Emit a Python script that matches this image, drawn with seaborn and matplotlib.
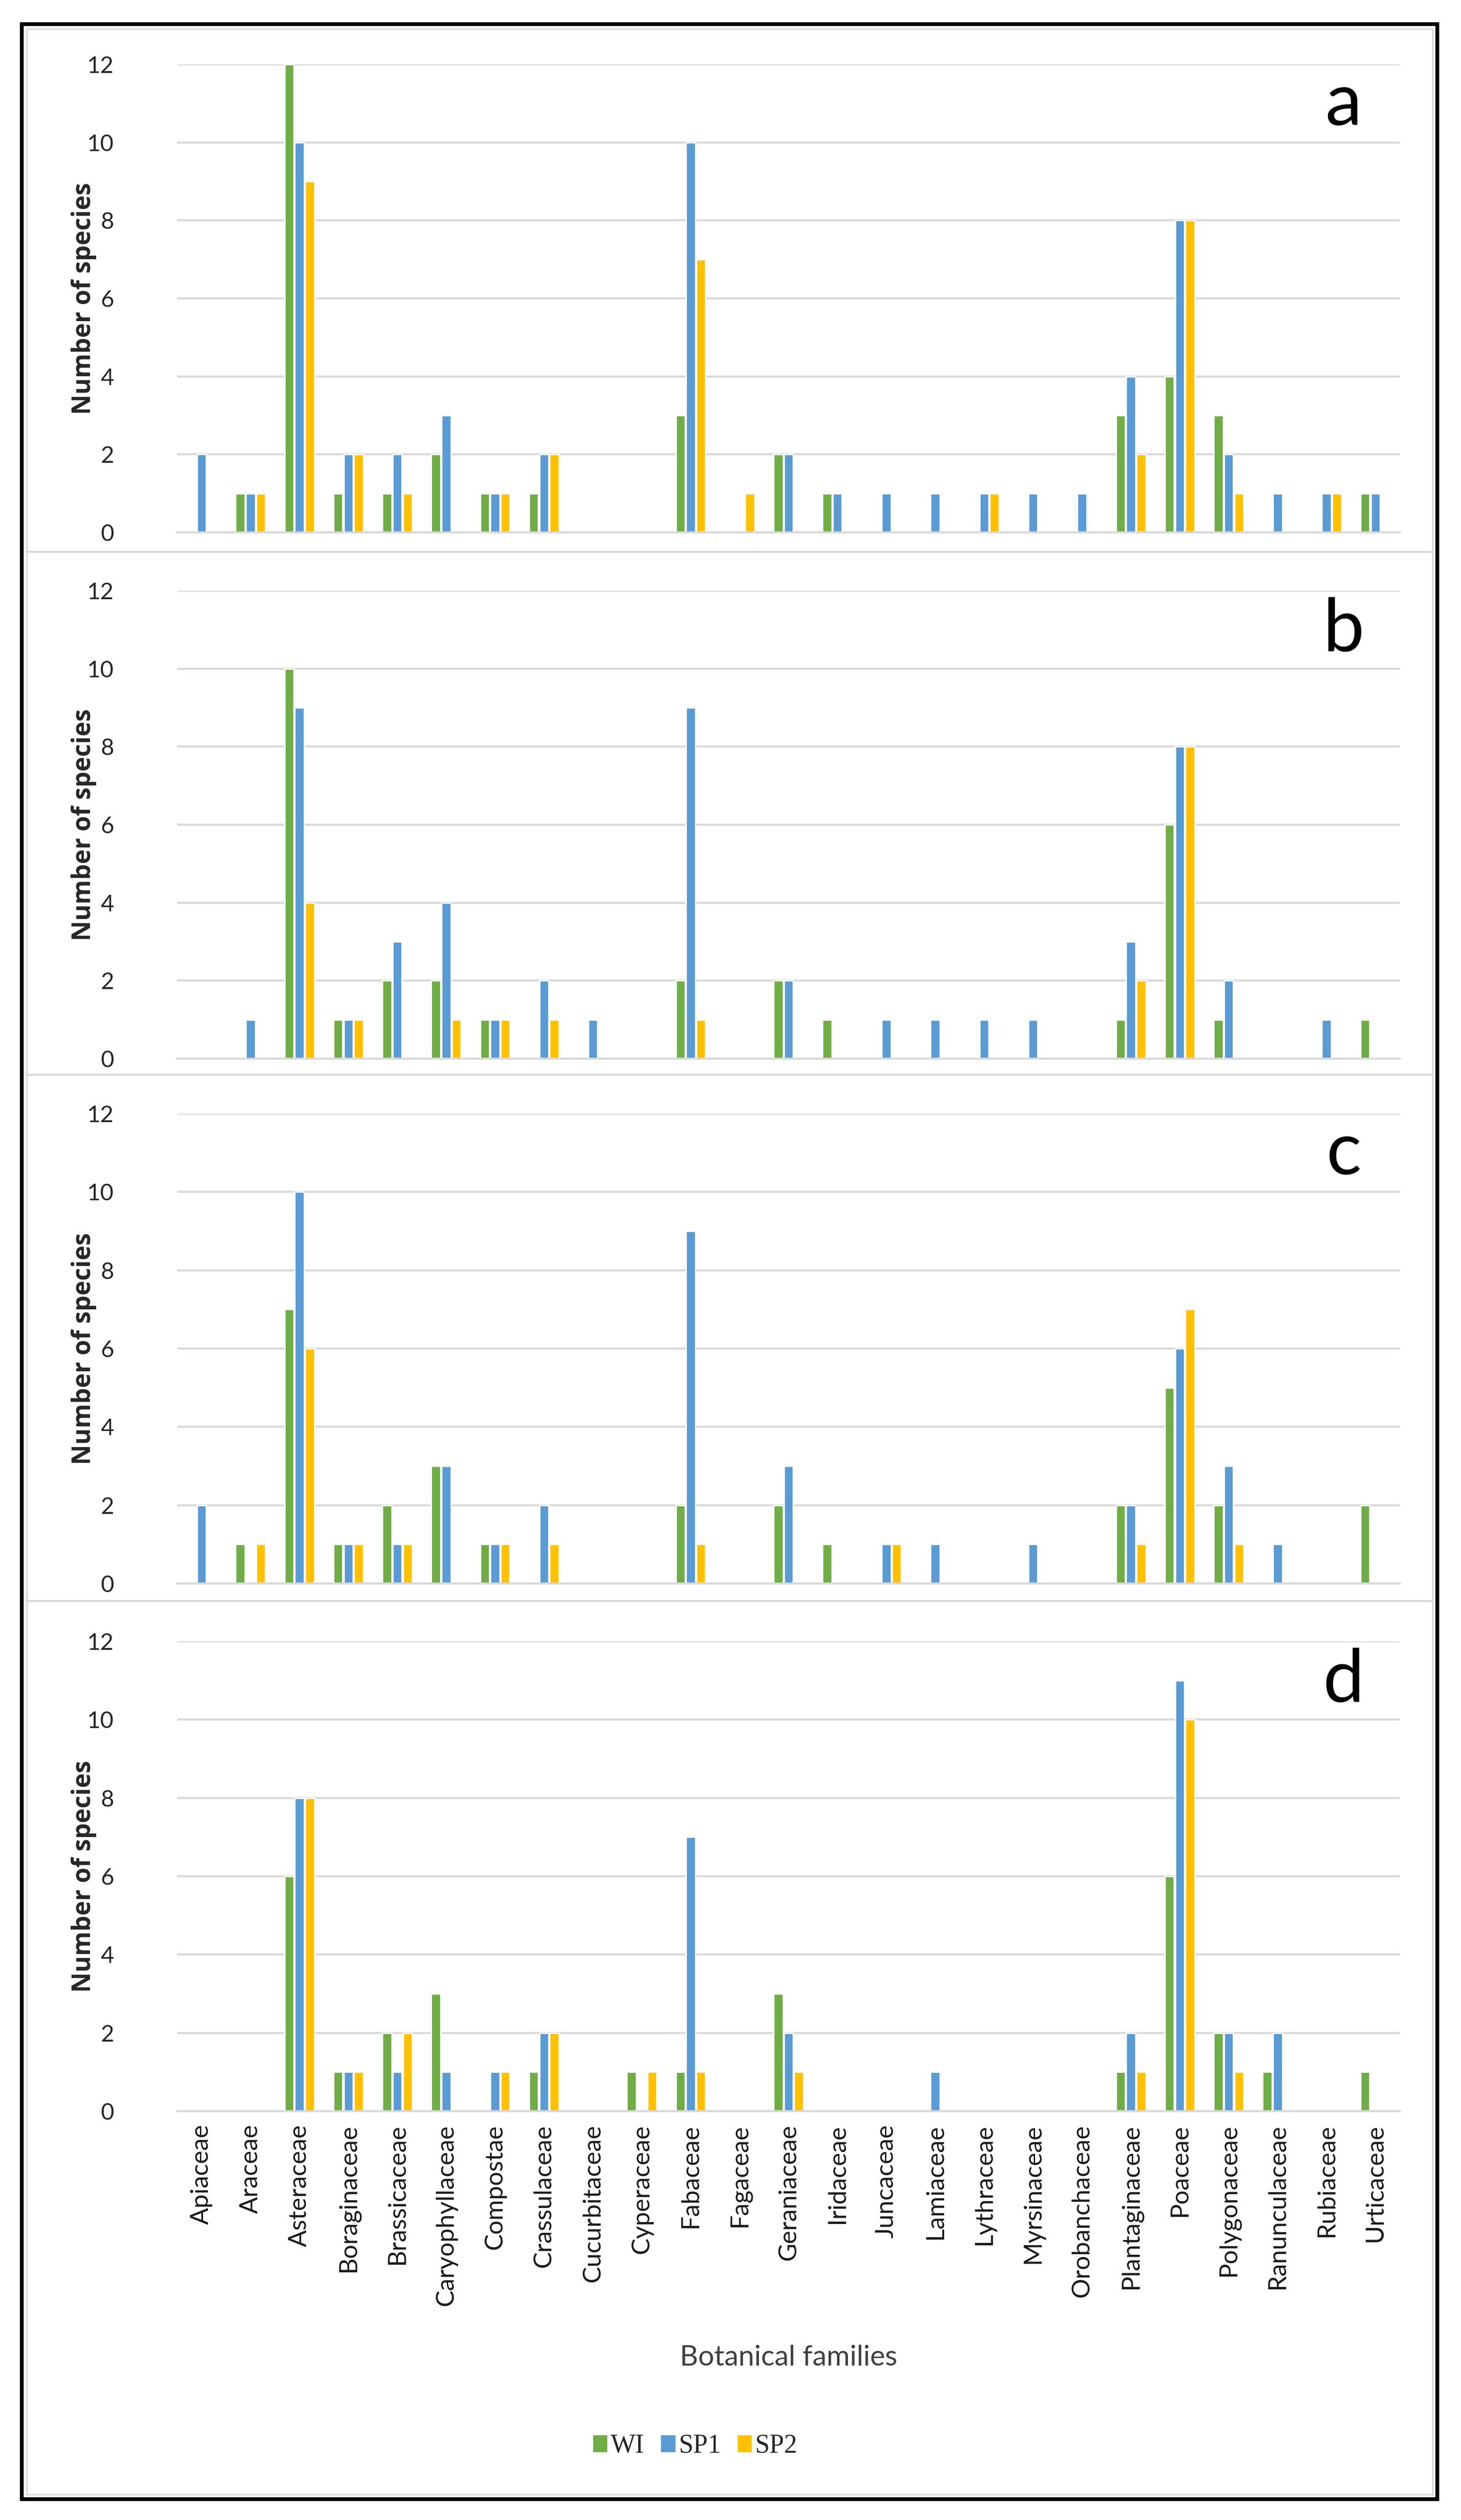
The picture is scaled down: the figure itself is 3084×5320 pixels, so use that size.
import numpy as np
import pandas as pd
import matplotlib
matplotlib.use('Agg')
import matplotlib.pyplot as plt
import seaborn as sns
from matplotlib.lines import Line2D
from matplotlib.patches import Rectangle

# Botanical families on the x axis
families = ['Apiaceae', 'Araceae', 'Asteraceae', 'Boraginaceae', 'Brassicaceae',
            'Caryophyllaceae', 'Compostae', 'Crassulaceae', 'Cucurbitaceae',
            'Cyperaceae', 'Fabaceae', 'Fagaceae', 'Geraniaceae', 'Iridaceae',
            'Juncaceae', 'Lamiaceae', 'Lythraceae', 'Myrsinaceae', 'Orobanchaceae',
            'Plantaginaceae', 'Poaceae', 'Polygonaceae', 'Ranunculaceae',
            'Rubiaceae', 'Urticaceae']
seasons = ['WI', 'SP1', 'SP2']
colors = ['#70AD47', '#5B9BD5', '#FFC000']

# Panel a
a_wi  = [0, 1, 12, 1, 1, 2, 1, 1, 0, 0, 3, 0, 2, 1, 0, 0, 0, 0, 0, 3, 4, 3, 0, 0, 1]
a_sp1 = [2, 1, 10, 2, 2, 3, 1, 2, 0, 0, 10, 0, 2, 1, 1, 1, 1, 1, 1, 4, 8, 2, 1, 1, 1]
a_sp2 = [0, 1, 9, 2, 1, 0, 1, 2, 0, 0, 7, 1, 0, 0, 0, 0, 1, 0, 0, 2, 8, 1, 0, 1, 0]
# Panel b
b_wi  = [0, 0, 10, 1, 2, 2, 1, 0, 0, 0, 2, 0, 2, 1, 0, 0, 0, 0, 0, 1, 6, 1, 0, 0, 1]
b_sp1 = [0, 1, 9, 1, 3, 4, 1, 2, 1, 0, 9, 0, 2, 0, 1, 1, 1, 1, 0, 3, 8, 2, 0, 1, 0]
b_sp2 = [0, 0, 4, 1, 0, 1, 1, 1, 0, 0, 1, 0, 0, 0, 0, 0, 0, 0, 0, 2, 8, 0, 0, 0, 0]
# Panel c
c_wi  = [0, 1, 7, 1, 2, 3, 1, 0, 0, 0, 2, 0, 2, 1, 0, 0, 0, 0, 0, 2, 5, 2, 0, 0, 2]
c_sp1 = [2, 0, 10, 1, 1, 3, 1, 2, 0, 0, 9, 0, 3, 0, 1, 1, 0, 1, 0, 2, 6, 3, 1, 0, 0]
c_sp2 = [0, 1, 6, 1, 1, 0, 1, 1, 0, 0, 1, 0, 0, 0, 1, 0, 0, 0, 0, 1, 7, 1, 0, 0, 0]
# Panel d
d_wi  = [0, 0, 6, 1, 2, 3, 0, 1, 0, 1, 1, 0, 3, 0, 0, 0, 0, 0, 0, 1, 6, 2, 1, 0, 1]
d_sp1 = [0, 0, 8, 1, 1, 1, 1, 2, 0, 0, 7, 0, 2, 0, 0, 1, 0, 0, 0, 2, 11, 2, 2, 0, 0]
d_sp2 = [0, 0, 8, 1, 2, 0, 1, 2, 0, 1, 1, 0, 1, 0, 0, 0, 0, 0, 0, 1, 10, 1, 0, 0, 0]

panels = [('a', a_wi, a_sp1, a_sp2), ('b', b_wi, b_sp1, b_sp2),
          ('c', c_wi, c_sp1, c_sp2), ('d', d_wi, d_sp1, d_sp2)]

sns.set_style('white')
plt.rcParams['font.family'] = ['Lato', 'DejaVu Sans']

W, H = 3084, 5320
fig = plt.figure(figsize=(W / 200, H / 200), dpi=200)

grid_col = '#D9D9D9'
left = 374 / W
width = (2955 - 374) / W
# (top px of 12, bottom px of 0) for each panel
spans = [(136, 1124), (1247, 2235), (2351, 3343), (3465, 4457)]

for (letter, wi, sp1, sp2), (top, bot) in zip(panels, spans):
    ax = fig.add_axes([left, 1 - bot / H, width, (bot - top) / H])
    df = pd.DataFrame({'Family': families * 3,
                       'Season': np.repeat(seasons, len(families)),
                       'Count': wi + sp1 + sp2})
    sns.barplot(data=df, x='Family', y='Count', hue='Season', order=families,
                hue_order=seasons, palette=colors, saturation=1, width=0.63,
                gap=0.1, errorbar=None, legend=False, ax=ax)
    ax.set_xlim(-0.5, len(families) - 0.5)
    ax.set_ylim(0, 12)
    ax.set_yticks(range(0, 13, 2))
    ax.yaxis.grid(True, color=grid_col, lw=1.6)
    ax.xaxis.grid(False)
    ax.set_axisbelow(True)
    for s in ['top', 'left', 'right']:
        ax.spines[s].set_visible(False)
    ax.spines['bottom'].set_color(grid_col)
    ax.spines['bottom'].set_linewidth(1.6)
    ax.tick_params(axis='y', length=0, pad=48, labelsize=17.5, labelcolor='#262626')
    ax.set_xlabel('')
    ax.set_ylabel('Number of species', fontsize=19, fontweight='bold',
                  family='Open Sans', color='#262626')
    ax.yaxis.set_label_coords(-0.066, 0.5)
    if letter == 'd':
        ax.tick_params(axis='x', length=0, pad=10, labelsize=19,
                       labelcolor='#1a1a1a', rotation=90)
    else:
        ax.tick_params(axis='x', length=0, labelbottom=False)
    if letter == 'b':
        ax.set_xticks(np.arange(-0.5, len(families), 1), minor=True)
        ax.tick_params(axis='x', which='minor', length=8, width=1.6, color=grid_col)
    ax.text(0.954, 0.915, letter, transform=ax.transAxes, ha='center',
            va='center', fontsize=56, color='black')

fig.text((374 + 2955) / 2 / W, 1 - 4977 / H, 'Botanical families',
         ha='center', va='center', fontsize=21.5, color='#404040')

handles = [Rectangle((0, 0), 1, 1, color=c) for c in colors]
fig.legend(handles, seasons, loc='center', bbox_to_anchor=(0.476, 1 - 5164 / H),
           ncol=3, frameon=False, handlelength=0.5, handleheight=0.55,
           handletextpad=0.15, columnspacing=0.65,
           prop={'family': 'Liberation Serif', 'size': 20})

# panel separators and outer frame
for y in [1165, 2269, 3380]:
    fig.add_artist(Line2D([56 / W, 3024 / W], [1 - y / H] * 2, color=grid_col, lw=1.6))
fig.add_artist(Rectangle((56 / W, 1 - 5266 / H), (3024 - 56) / W, (5266 - 61) / H,
                         fill=False, ec=grid_col, lw=1.2))
fig.add_artist(Rectangle((46 / W, 1 - 5276 / H), (3034 - 46) / W, (5276 - 51) / H,
                         fill=False, ec='black', lw=2.9))

fig.savefig('out.png', dpi=200)
